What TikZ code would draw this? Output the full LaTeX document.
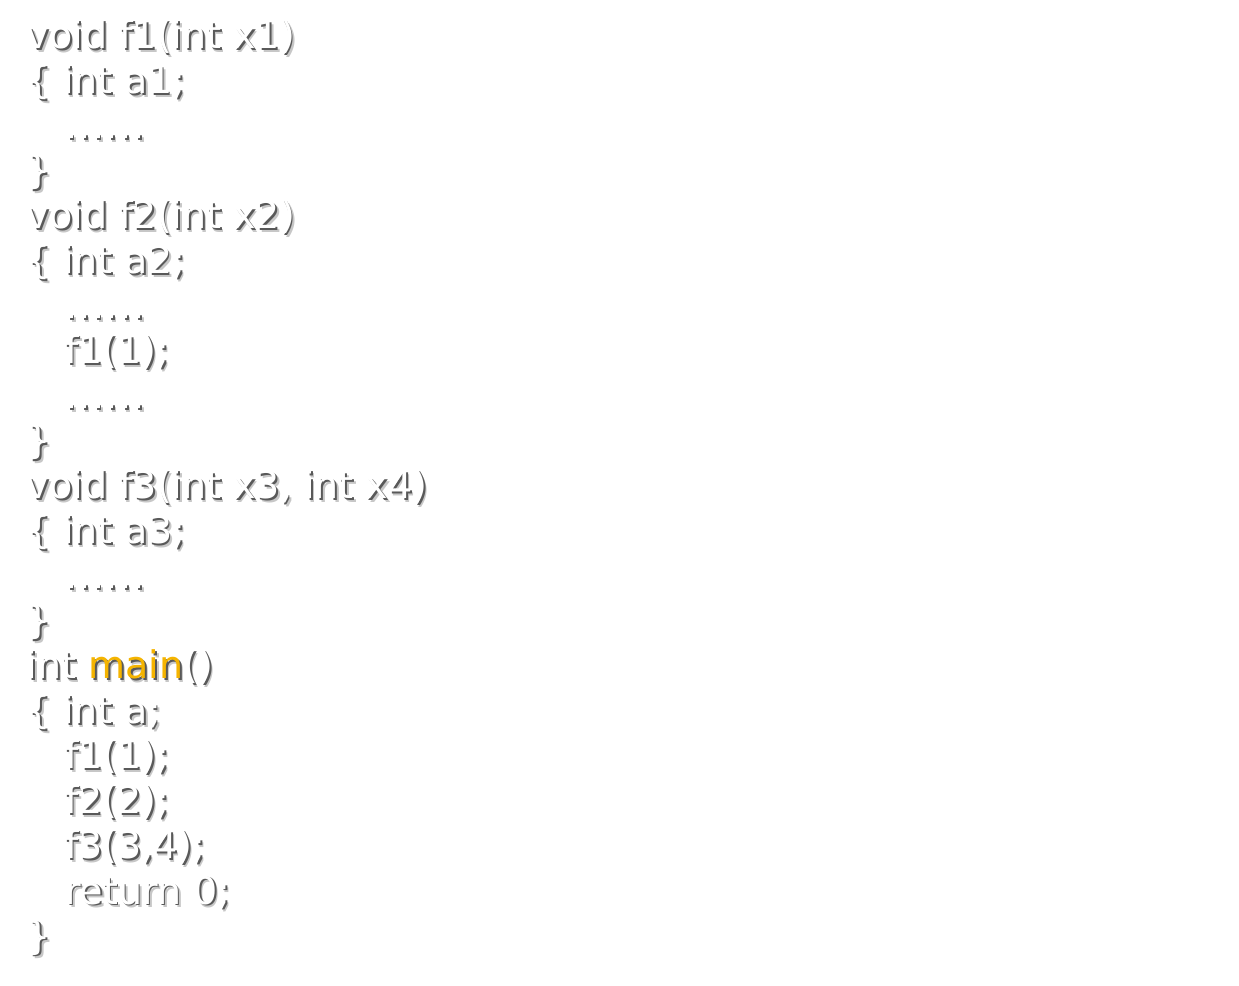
\documentclass[tikz,border=0pt]{standalone}
\usepackage{fontspec}
\setmainfont{DejaVu Sans}
\definecolor{mainyellow}{RGB}{245,180,0}
\newcommand{\mainon}{\def\mainword##1{\textcolor{mainyellow}{##1}}}
\newcommand{\mainoff}{\def\mainword##1{##1}}
\newcommand{\codedots}{.\kern1.5pt.\kern1.5pt.\kern1.5pt.\kern1.5pt.\kern1.5pt.}

\begin{document}
\begin{tikzpicture}[x=1pt,y=1pt,
    code/.style={anchor=base west,inner sep=0pt,outer sep=0pt,
        font=\fontsize{38}{45}\selectfont,text=white,execute at begin node=\mainon},
    codeshadow/.style={code,text=black!65,execute at begin node=\mainoff},
    codesoft/.style={code,text=black!22,execute at begin node=\mainoff}
]
\useasboundingbox (0,0) rectangle (1239,985);
% one line of code per entry: indent/text
\foreach \ind/\txt [count=\i] in {
        0/{void f1(int x1)},
        0/{\{ int a1;},
        1/{\codedots},
        0/{\}},
        0/{void f2(int x2)},
        0/{\{ int a2;},
        1/{\codedots},
        1/{f1(1);},
        1/{\codedots},
        0/{\}},
        0/{void f3(int x3, int x4)},
        0/{\{ int a3;},
        1/{\codedots},
        0/{\}},
        0/{int \mainword{main}()},
        0/{\{ int a;},
        1/{f1(1);},
        1/{f2(2);},
        1/{f3(3,4);},
        1/{return 0;},
        0/{\}}
    }{
    \node[codesoft] (soft\i) at (27+38*\ind+3.2, 981-45*\i-3.2) {\txt};
    \node[codeshadow] (shadow\i) at (27+38*\ind+1.8, 981-45*\i-1.8) {\txt};
    \node[code] (line\i) at (27+38*\ind, 981-45*\i) {\txt};
}
\end{tikzpicture}
\end{document}
